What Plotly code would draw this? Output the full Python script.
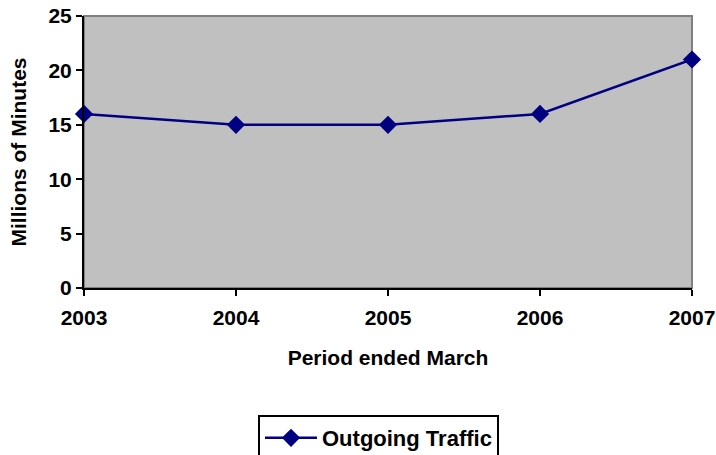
import plotly.graph_objects as go

years = [2003, 2004, 2005, 2006, 2007]
outgoing_traffic = [16, 15, 15, 16, 21]
y_ticks = [0, 5, 10, 15, 20, 25]

FONT = "Liberation Sans, Arial, sans-serif"
FS = 21

fig = go.Figure()
fig.add_trace(go.Scatter(
    x=years, y=outgoing_traffic, mode="lines+markers",
    name="Outgoing Traffic",
    line=dict(color="#000080", width=2.5),
    marker=dict(symbol="diamond", size=14, color="#000080"),
    cliponaxis=False,
))

fig.update_layout(
    width=716, height=455,
    margin=dict(l=84, r=24, t=16, b=167, autoexpand=False),
    paper_bgcolor="white", plot_bgcolor="#C0C0C0",
    font=dict(family=FONT, size=FS, color="black"),
    showlegend=True,
    legend=dict(
        x=(258-84)/608, y=-(415-288)/272, xanchor="left", yanchor="top",
        bordercolor="black", borderwidth=2, bgcolor="white",
        itemwidth=52,
        entrywidth=250, entrywidthmode="pixels",
        font=dict(family=FONT, size=22, color="black", weight="bold"),
    ),
    shapes=[dict(type="rect", xref="paper", yref="paper", x0=0, x1=1, y0=0, y1=1,
                 line=dict(color="#808080", width=2), layer="below")],
)

fig.update_xaxes(
    range=[2003, 2007], tickvals=years, ticktext=[str(y) for y in years],
    tickangle=0, automargin=False,
    showgrid=False, zeroline=False,
    showline=True, linecolor="black", linewidth=2,
    ticks="outside", ticklen=6, tickwidth=2, tickcolor="black",
    ticklabelstandoff=4,
    tickfont=dict(family=FONT, size=FS, weight="bold"),
    title=dict(text="<b>Period ended March</b>", standoff=22,
               font=dict(family=FONT, size=FS)),
)
fig.update_yaxes(
    range=[0, 25], tickvals=y_ticks, automargin=False,
    showgrid=False, zeroline=False,
    showline=True, linecolor="black", linewidth=2,
    ticks="outside", ticklen=6, tickwidth=2, tickcolor="black",
    tickfont=dict(family=FONT, size=FS, weight="bold"),
    title=dict(text="<b>Millions of Minutes</b>", standoff=16,
               font=dict(family=FONT, size=FS)),
)

fig.write_html("out.html", config={"displayModeBar": False},
               post_script="document.body.style.margin='0';document.body.style.overflow='hidden';")
